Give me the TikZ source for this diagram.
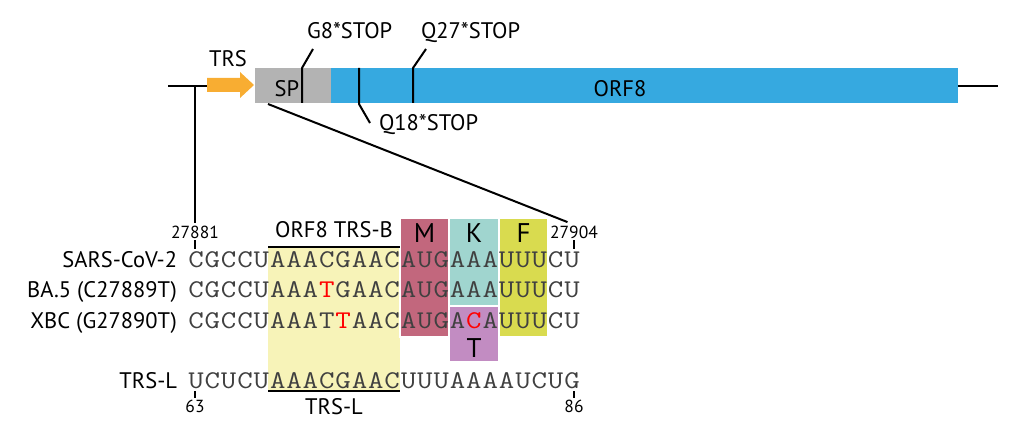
\documentclass[tikz,border=0pt]{standalone}
\usepackage{fontspec}
\setmainfont{PT Sans}
\usetikzlibrary{positioning}
\definecolor{Blue}{HTML}{36A9E0}
\definecolor{Grey}{HTML}{B3B3B3}
\definecolor{Orange}{HTML}{F8AD32}
\definecolor{Yellow}{HTML}{F7F3B8}
\definecolor{Rose}{HTML}{C2677D}
\definecolor{Teal}{HTML}{A0D5CF}
\definecolor{Lime}{HTML}{D9DB4F}
\definecolor{Lilac}{HTML}{C28CC2}
\definecolor{SeqGrey}{HTML}{404040}
\newcommand{\red}[1]{\textcolor{red}{#1}}
\newcommand{\seqrow}[3]{\foreach \ch [count=\i] in {#3}{\node[nt] (#1\i) at ({196+(\i-1)*16.35},#2) {\scalebox{1.18}[1]{\ch}};}}

\begin{document}
\begin{tikzpicture}[x=1pt,y=-1pt,line width=2pt,
    lab/.style={font=\fontsize{22.5}{22.5}\selectfont,inner sep=0pt},
    aa/.style={font=\fontsize{27}{27}\selectfont,inner sep=0pt,anchor=base},
    num/.style={font=\fontsize{17.5}{17.5}\selectfont,inner sep=0pt},
    nt/.style={font=\ttfamily\fontsize{25.5}{25.5}\selectfont,text=SeqGrey,anchor=base,inner sep=0pt},
    box/.style={draw=white,line width=1.5pt}]
  \useasboundingbox (0,0) rectangle (1024,433);

  % genome
  \coordinate (gl) at (168,86);
  \coordinate (gr) at (998,86);
  \coordinate (trsstart) at (207,86);
  \coordinate (orfend) at (958,86);
  \draw (gl) -- (trsstart);
  \draw (orfend) -- (gr);
  \fill[Grey] (255,68) rectangle (331,103);
  \fill[Blue] (331,68) rectangle (958,103);
  \fill[Orange] (207,78) -- (240,78) -- (240,72) -- (254,85) -- (240,98) -- (240,92) -- (207,92) -- cycle;
  \node[lab,anchor=base] (trs) at (228,67) {TRS};
  \node[lab,anchor=base] (sp) at (287,96) {SP};
  \node[lab,anchor=base] (orf) at (620,96) {ORF8};

  % stop codons
  \node[lab,anchor=base west] (g8) at (306,39) {G8*STOP};
  \node[lab,anchor=base west] (q27) at (420,39) {Q27*STOP};
  \node[lab,anchor=base west] (q18) at (378,131) {Q18*STOP};
  \draw (302,103) -- (302,68) -- (313,49);
  \draw (413,103) -- (413,68) -- (426,49);
  \draw (359,68) -- (359,104) -- (370,123);

  % boxes
  \fill[Yellow] (268,247) rectangle (400,391);
  \filldraw[box,fill=Rose] (400,218) rectangle (449,337);
  \filldraw[box,fill=Teal] (449,218) rectangle (499,306);
  \filldraw[box,fill=Lilac] (449,306) rectangle (499,362);
  \filldraw[box,fill=Lime] (499,218) rectangle (548,337);
  \node[aa] (m) at (424.5,242) {M};
  \node[aa] (k) at (474,242) {K};
  \node[aa] (f) at (523.5,242) {F};
  \node[aa] (t) at (474,357) {T};

  % sequences
  \seqrow{wt}{267}{C,G,C,C,U,A,A,A,C,G,A,A,C,A,U,G,A,A,A,U,U,U,C,U}
  \seqrow{ba}{297}{C,G,C,C,U,A,A,A,\red{T},G,A,A,C,A,U,G,A,A,A,U,U,U,C,U}
  \seqrow{xbc}{328}{C,G,C,C,U,A,A,A,T,\red{T},A,A,C,A,U,G,A,\red{C},A,U,U,U,C,U}
  \seqrow{trsl}{388}{U,C,U,C,U,A,A,A,C,G,A,A,C,U,U,U,A,A,A,A,U,C,U,G}
  \node[lab,anchor=base east] (wtlab) at (178,267) {SARS-CoV-2};
  \node[lab,anchor=base east] (balab) at (178,297) {BA.5 (C27889T)};
  \node[lab,anchor=base east] (xbclab) at (178,328) {XBC (G27890T)};
  \node[lab,anchor=base east] (trsllab) at (178,388) {TRS-L};

  % TRS-B / TRS-L
  \node[lab,anchor=base] (trsb) at (334,237) {ORF8 TRS-B};
  \node[lab,anchor=base] (trslbot) at (334,414) {TRS-L};
  \draw (268,247) -- (400,247);
  \draw (268,391) -- (400,391);

  % positions
  \node[num] (p1) at (195,232) {27881};
  \node[num] (p2) at (574,232) {27904};
  \node[num] (p3) at (195,406) {63};
  \node[num] (p4) at (574,406) {86};
  \draw[shorten >=2pt] (195,86) -- (p1.north);
  \draw[shorten >=7pt] (268,104) -- (p2.north);
  \draw[line width=1.4pt] (195,240) -- (195,249);
  \draw[line width=1.4pt] (574,240) -- (574,249);
  \draw[line width=1.4pt] (195,391) -- (195,398);
  \draw[line width=1.4pt] (574,391) -- (574,398);
\end{tikzpicture}
\end{document}
